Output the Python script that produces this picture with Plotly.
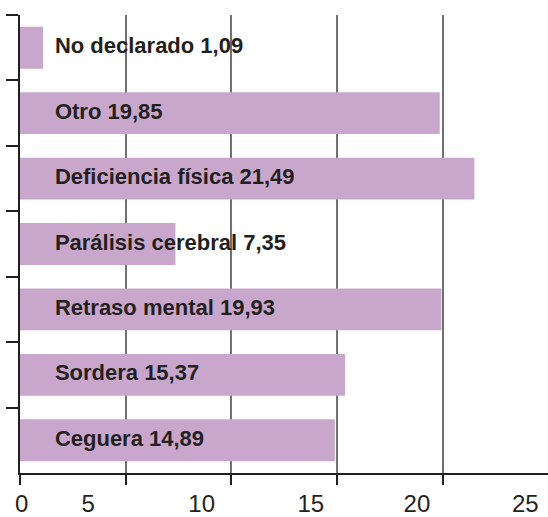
import plotly.graph_objects as go

categories = ["No declarado", "Otro", "Deficiencia física", "Parálisis cerebral",
              "Retraso mental", "Sordera", "Ceguera"]
values = [1.09, 19.85, 21.49, 7.35, 19.93, 15.37, 14.89]
tick_values = [0, 5, 10, 15, 20, 25]
tick_labels = ["0", "5", "10", "15", "20", "25"]

# layout constants
BAR_COLOR = "#c9a7cc"
TEXT_COLOR = "#231f20"
LABEL_X = 1.65                     # where bar labels start (axis units)
TICK_LABEL_X = [0.08, 3.22, 8.59, 13.75, 18.77, 23.9]  # label placement as in reference
X_MAX = 24.97

bar_text = [f"{c} {v:.2f}".replace(".", ",") for c, v in zip(categories, values)]

fig = go.Figure()
fig.add_trace(go.Bar(
    y=categories, x=values, orientation="h",
    marker=dict(color=BAR_COLOR, line=dict(width=0)),
    hoverinfo="skip",
))
fig.add_trace(go.Scatter(
    y=categories, x=[LABEL_X] * len(categories), mode="text",
    text=bar_text, textposition="middle right",
    textfont=dict(family="Liberation Sans Narrow, Arial Narrow, Liberation Sans", size=22,
                  color=TEXT_COLOR, weight="bold"),
    hoverinfo="skip", cliponaxis=False,
))
# invisible trace on overlay axis for tick labels
fig.add_trace(go.Scatter(x=[0], y=[categories[0]], xaxis="x2", mode="markers",
                         marker=dict(opacity=0), hoverinfo="skip"))

fig.update_layout(
    width=548, height=517,
    margin=dict(l=20, r=0, t=15, b=44),
    paper_bgcolor="white", plot_bgcolor="white",
    showlegend=False, bargap=0.36,
    xaxis=dict(range=[0, X_MAX], tickvals=tick_values, showticklabels=False,
               showgrid=True, gridcolor="#707070", gridwidth=1.5,
               showline=True, linecolor="#231f20", linewidth=2,
               ticks="outside", ticklen=10, tickwidth=2, tickcolor="#231f20",
               zeroline=False, fixedrange=True, automargin=False),
    xaxis2=dict(range=[0, X_MAX], overlaying="x", side="bottom", anchor="y",
                tickvals=TICK_LABEL_X, ticktext=tick_labels,
                showgrid=False, showline=False, zeroline=False, automargin=False,
                ticks="outside", ticklen=9, tickcolor="rgba(0,0,0,0)",
                tickfont=dict(family="Liberation Sans, Arial", size=24, color=TEXT_COLOR)),
    yaxis=dict(autorange="reversed", tickson="boundaries", ticks="outside",
               ticklen=12, tickwidth=2, tickcolor="#231f20",
               showticklabels=False, showgrid=False, automargin=False,
               showline=True, linecolor="#231f20", linewidth=2, zeroline=False),
)

fig.write_html("out.html", config={"displayModeBar": False},
               post_script="document.body.style.margin='0';document.body.style.overflow='hidden';")
